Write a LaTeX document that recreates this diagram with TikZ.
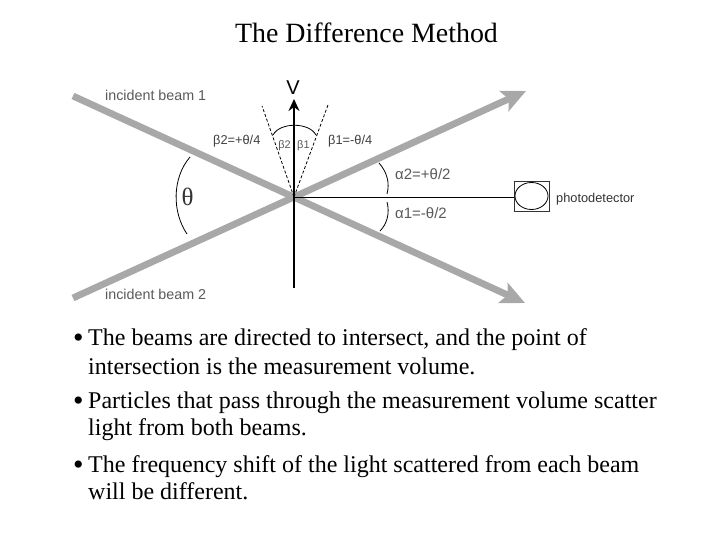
\documentclass[tikz,border=0pt]{standalone}
\usepackage{fontspec}
\setmainfont{Liberation Serif}
\setsansfont{Liberation Sans}
\usetikzlibrary{arrows.meta,shapes.geometric}
\definecolor{beamgray}{HTML}{A8A8A8}
\definecolor{labelgray}{HTML}{5A5A5A}
\tikzset{
  beam/.style={line width=6.8pt,draw=beamgray,line cap=butt},
  beamarrow/.style={beam,-{Stealth[length=24pt,width=22pt,inset=5pt,fill=beamgray]}},
  thin line/.style={line width=0.9pt,draw=black},
  dash line/.style={line width=0.8pt,dashed,dash pattern=on 3pt off 2pt,draw=black},
  arc line/.style={line width=0.8pt,draw=black},
  lab/.style={font=\sffamily\fontsize{14.3}{16}\selectfont,text=labelgray,inner sep=0pt},
  det lab/.style={font=\sffamily\fontsize{12.8}{15}\selectfont,text=black!80,inner sep=0pt},
  mid lab/.style={font=\sffamily\fontsize{12.8}{15}\selectfont,text=black!75,inner sep=0pt},
  small lab/.style={font=\sffamily\fontsize{11}{13}\selectfont,text=labelgray,inner sep=0pt},
  alpha lab/.style={font=\sffamily\fontsize{15}{17}\selectfont,text=labelgray,inner sep=0pt},
  body/.style={font=\fontsize{24}{26}\selectfont,anchor=base west,inner sep=0pt,text=black},
  bullet mark/.style={font=\fontsize{30}{32}\selectfont,anchor=base west,inner sep=0pt,text=black},
}
\begin{document}
\begin{tikzpicture}[x=1pt,y=-1pt]
\useasboundingbox (0,0) rectangle (720,540);
\fill[white] (0,0) rectangle (720,540);
\node[font=\fontsize{27.9}{30}\selectfont,anchor=base,inner sep=0pt] (title) at (366.5,43) {The Difference Method};
\coordinate (c) at (294,197);
\coordinate (b1s) at (73,96);
\coordinate (b1e) at (525,303);
\coordinate (b2s) at (73,298);
\coordinate (b2e) at (526,91);
\draw[beamarrow] (b1s) -- (b1e);
\draw[beamarrow] (b2s) -- (b2e);
\coordinate (vs) at (294,288);
\coordinate (ve) at (294,99);
\draw[line width=1.6pt,-{Stealth[length=12pt,width=11pt]}] (vs) -- (ve);
\node[font=\sffamily\fontsize{20}{22}\selectfont,inner sep=0pt] (v) at (293,88) {V};
\coordinate (d2) at (262,106);
\coordinate (d1) at (328,105);
\draw[dash line] (c) -- (d2);
\draw[dash line] (c) -- (d1);
\coordinate (ba) at (273,135);
\coordinate (bb) at (316,135);
\draw[arc line] (ba) .. controls (280,122) and (309,122) .. (bb);
\node[draw=black!80,line width=0.7pt,minimum width=35pt,minimum height=30pt,inner sep=0pt] (box) at (531.5,196) {};
\node[draw=black,line width=0.8pt,ellipse,minimum width=33pt,minimum height=27pt,inner sep=0pt] (oval) at (531.5,196) {};
\draw[thin line] (c) -- (box.west |- c);
\node[det lab,anchor=west] (pd) at (556,199.5) {photodetector};
\node[lab,anchor=west] (ib1) at (105,95) {incident beam 1};
\node[lab,anchor=west] (ib2) at (105,294) {incident beam 2};
\node[font=\fontsize{25}{27}\selectfont,inner sep=0pt,text=black!80] (th) at (187.5,197) {θ};
\coordinate (ta) at (190,157);
\coordinate (tb) at (187,234);
\draw[arc line] (ta) .. controls (172,178) and (172,212) .. (tb);
\coordinate (a2a) at (379,163);
\coordinate (a2b) at (387,194);
\draw[arc line] (a2a) .. controls (387,172) and (390,183) .. (a2b);
\coordinate (a1a) at (387,202);
\coordinate (a1b) at (380,231);
\draw[arc line] (a1a) .. controls (390,213) and (387,224) .. (a1b);
\node[mid lab,anchor=west] (lb2) at (213,141) {β2=+θ/4};
\node[mid lab,anchor=west] (lb1) at (328,141) {β1=-θ/4};
\node[small lab,anchor=east] (sb2) at (291,146) {β2};
\node[small lab,anchor=west] (sb1) at (297,146) {β1};
\node[alpha lab,anchor=west] (la2) at (395,174) {α2=+θ/2};
\node[alpha lab,anchor=west] (la1) at (395,213) {α1=-θ/2};
\node[bullet mark] (bu1) at (73,347) {•};
\node[body] (l1) at (88,345) {The beams are directed to intersect, and the point of};
\node[body] (l2) at (88,374) {intersection is the measurement volume.};
\node[bullet mark] (bu2) at (73,410) {•};
\node[body] (l3) at (88,408) {Particles that pass through the measurement volume scatter};
\node[body] (l4) at (88,435.5) {light from both beams.};
\node[bullet mark] (bu3) at (73,474) {•};
\node[body] (l5) at (88,472) {The frequency shift of the light scattered from each beam};
\node[body] (l6) at (88,499.5) {will be different.};
\end{tikzpicture}
\end{document}
